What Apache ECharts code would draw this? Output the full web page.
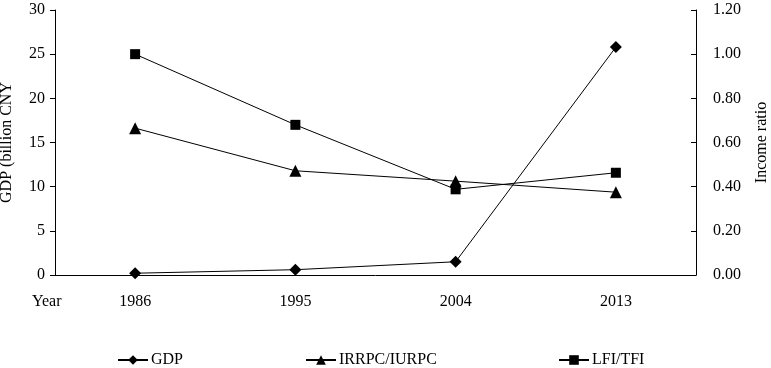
<!DOCTYPE html>
<html><head><meta charset="utf-8">
<script src="https://cdn.jsdelivr.net/npm/echarts@6/dist/echarts.min.js"></script>
<style>html,body{margin:0;padding:0;background:#fff}#c{width:771px;height:368px}</style>
</head><body><div id="c"></div>
<script>
const categories = ['1986', '1995', '2004', '2013'];
const gdp = [0.2, 0.6, 1.5, 25.8];
const irrpcIurpc = [0.665, 0.472, 0.425, 0.375];
const lfiTfi = [1.0, 0.68, 0.388, 0.463];
const leftTicks = [0, 5, 10, 15, 20, 25, 30];
const rightTicks = [0, 0.2, 0.4, 0.6, 0.8, 1.0, 1.2];

const F = 'Liberation Serif';
const txt = {fontFamily: F, fontSize: 16, color: '#000'};
const chart = echarts.init(document.getElementById('c'));
const lineStyle = {color: '#000', width: 1};
function legendAt(name, left) {
  return {data: [name], left: left, top: 347, itemWidth: 30, itemHeight: 12, itemGap: 4,
    textStyle: {fontFamily: F, fontSize: 16, color: '#000', padding: [0,0,0,-2]}};
}
chart.setOption({
  animation: false,
  backgroundColor: '#fff',
  grid: {left: 55, right: 75, top: 10, bottom: 93, outerBoundsMode: 'none', containLabel: false},
  legend: [legendAt('GDP', 112), legendAt('IRRPC/IURPC', 300), legendAt('LFI/TFI', 553)],
  graphic: [{type: 'text', left: 32, top: 294, style: {text: 'Year', font: '16px "Liberation Serif"', fill: '#000'}}],
  xAxis: {
    type: 'category', data: categories, boundaryGap: true,
    axisLine: {lineStyle: {color: '#000', width: 1}},
    axisTick: {inside: true, length: 5, lineStyle: {color: '#000'}},
    axisLabel: Object.assign({margin: 19}, txt)
  },
  yAxis: [{
    type: 'value', min: 0, max: 30, interval: 5, position: 'left',
    name: 'GDP (billion CNY', nameLocation: 'middle', nameGap: 40,
    nameTextStyle: txt,
    axisLine: {show: true, lineStyle: {color: '#000', width: 1}},
    axisTick: {show: true, length: 5, lineStyle: {color: '#000'}},
    axisLabel: Object.assign({margin: 10, formatter: v => leftTicks.includes(v) ? String(v) : ''}, txt),
    splitLine: {show: false}
  }, {
    type: 'value', min: 0, max: 1.2, interval: 0.2, position: 'right',
    name: 'Income ratio', nameLocation: 'middle', nameGap: 58,
    nameTextStyle: txt,
    axisLine: {show: true, lineStyle: {color: '#000', width: 1}},
    axisTick: {show: true, inside: true, length: 5, lineStyle: {color: '#000'}},
    axisLabel: Object.assign({margin: 17, formatter: v => {
      const t = rightTicks.find(r => Math.abs(r - v) < 1e-6);
      return t === undefined ? '' : t.toFixed(2);
    }}, txt),
    splitLine: {show: false}
  }],
  series: [{
    name: 'GDP', type: 'line', data: gdp, yAxisIndex: 0,
    symbol: 'diamond', symbolSize: 12, lineStyle: lineStyle, itemStyle: {color: '#000'}
  }, {
    name: 'IRRPC/IURPC', type: 'line', data: irrpcIurpc, yAxisIndex: 1,
    symbol: 'triangle', symbolSize: 12, lineStyle: lineStyle, itemStyle: {color: '#000'}
  }, {
    name: 'LFI/TFI', type: 'line', data: lfiTfi, yAxisIndex: 1,
    symbol: 'rect', symbolSize: 10, lineStyle: lineStyle, itemStyle: {color: '#000'}
  }]
});
</script></body></html>
